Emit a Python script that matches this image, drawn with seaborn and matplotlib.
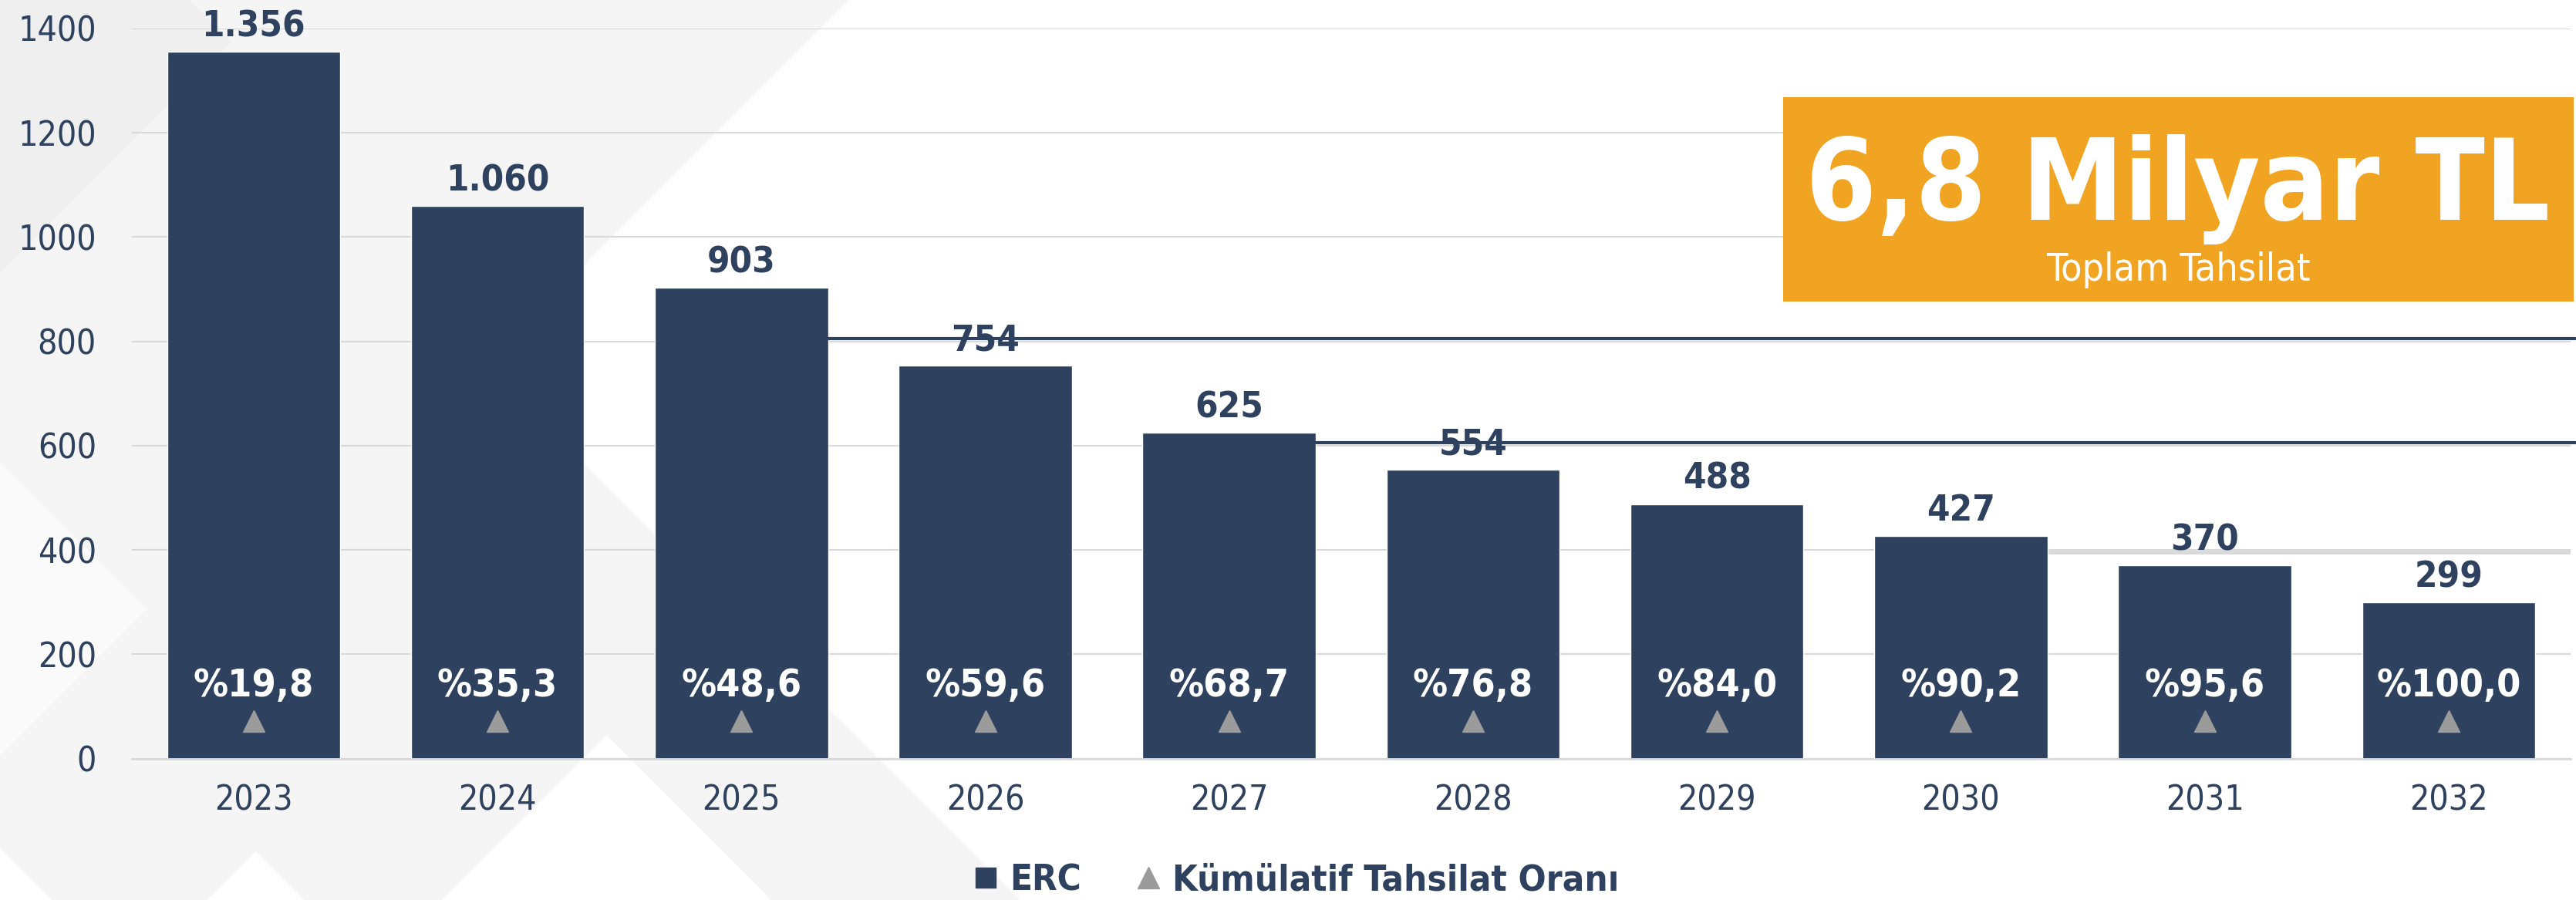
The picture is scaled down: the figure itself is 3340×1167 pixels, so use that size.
import numpy as np
import matplotlib
matplotlib.use("Agg")
import matplotlib.pyplot as plt
from matplotlib.patches import Polygon, Rectangle
from matplotlib.lines import Line2D
import seaborn as sns

# data
years = ["2023", "2024", "2025", "2026", "2027", "2028", "2029", "2030", "2031", "2032"]
erc = [1356, 1060, 903, 754, 625, 554, 488, 427, 370, 299]
cum_rate = [19.8, 35.3, 48.6, 59.6, 68.7, 76.8, 84.0, 90.2, 95.6, 100.0]
y_ticks = [0, 200, 400, 600, 800, 1000, 1200, 1400]
total_text = "6,8 Milyar TL"
total_sub = "Toplam Tahsilat"
legend_labels = ["ERC", "Kümülatif Tahsilat Oranı"]

NAVY = "#2E415E"
GREY = "#9B9B9B"
ORANGE = "#F0A422"
GRID = "#D9D9D9"
W, H = 3341, 1167
BAR_W = 0.71
TRI_Y = 72  # triangles all sit at the same height near the base


def px(x, y):
    return (x / W, 1 - y / H)


sns.set_style("white")
plt.rcParams["font.family"] = ["DejaVu Sans"]
plt.rcParams["font.stretch"] = "condensed"

fig = plt.figure(figsize=(W / 100, H / 100), dpi=100)
fig.patch.set_facecolor("white")

# faint 45-degree shapes in the background (pixel coords, y down)
bg_shapes = [
    ("#F5F5F5", [(0, 0), (1101, 0), (628, 473), (1322, 1167), (0, 1167)]),
    ("#EFEFEF", [(0, 0), (245, 0), (300, 55), (0, 355)]),
    ("#FFFFFF", [(0, 1100), (0, 1167), (67, 1167)]),
    ("#FFFFFF", [(268, 1167), (394, 1167), (331, 1104)]),
    ("#FFFFFF", [(573, 1167), (1000, 1167), (786, 953)]),
    ("#FAFAFA", [(0, 600), (190, 790), (0, 980)]),
]
for col, pts in bg_shapes:
    fig.patches.append(Polygon([px(*p) for p in pts], closed=True,
                               transform=fig.transFigure, facecolor=col,
                               edgecolor="none", zorder=-5))

ax = fig.add_axes([0.0511, 0.1572, 0.9465, 0.8111])
ax.set_facecolor("none")

sns.barplot(x=years, y=erc, color=NAVY, saturation=1, width=BAR_W, ax=ax, zorder=2)
ax.set_xlim(-0.5, 9.5)
ax.set_ylim(0, 1400)

# stray lines that cross the reference chart
ax.plot([2 + BAR_W / 2, 9.52], [805, 805], color=NAVY, lw=3, clip_on=False, zorder=2.5)
ax.plot([4 + BAR_W / 2, 9.52], [606, 606], color=NAVY, lw=3, clip_on=False, zorder=2.5)
ax.plot([7 + BAR_W / 2, 9.5], [395, 395], color=GRID, lw=3.5, zorder=1.5)

x = np.arange(len(years))
ax.plot(x, [TRI_Y] * len(years), ls="none", marker="^", ms=20, color=GREY, zorder=3)

for i, v in enumerate(erc):
    ax.annotate(f"{v:,}".replace(",", "."), (i, v), xytext=(0, 7),
                textcoords="offset points", ha="center", va="bottom",
                color=NAVY, fontsize=34, fontweight="bold")
for i, p in enumerate(cum_rate):
    ax.annotate(f"%{p:.1f}".replace(".", ","), (i, TRI_Y), xytext=(0, 33),
                textcoords="offset points", ha="center", va="center",
                color="white", fontsize=36, fontweight="bold")

ax.set_yticks(y_ticks)
ax.yaxis.grid(True, color=GRID, lw=1.5)
ax.xaxis.grid(False)
ax.set_axisbelow(True)
for s in ["left", "top", "right"]:
    ax.spines[s].set_visible(False)
ax.spines["bottom"].set_color(GRID)
ax.spines["bottom"].set_linewidth(2)
ax.set_xlabel("")
ax.set_ylabel("")
ax.tick_params(axis="y", length=0, pad=33, labelsize=32, labelcolor=NAVY)
ax.tick_params(axis="x", which="major", length=0, pad=24, labelsize=32, labelcolor=NAVY)
ax.set_xticks(np.arange(-0.5, 10, 1), minor=True)
ax.tick_params(axis="x", which="minor", length=12, width=1.5, color=GRID)

# total collection box
x0, y0 = px(2312, 391)
fig.patches.append(Rectangle((x0, y0), (3337 - 2312) / W, (391 - 126) / H,
                             transform=fig.transFigure, facecolor=ORANGE,
                             edgecolor="none", zorder=1))
fig.text(*px(2824, 285), total_text, ha="center", va="baseline", color="white",
         fontsize=106, fontweight="bold", zorder=2)
fig.text(*px(2824, 364), total_sub, ha="center", va="baseline", color="white",
         fontsize=36, zorder=2)

handles = [Line2D([], [], marker="s", ls="none", color=NAVY, ms=19),
           Line2D([], [], marker="^", ls="none", color=GREY, ms=20)]
fig.legend(handles, legend_labels, loc="center", bbox_to_anchor=(0.503, 0.0214),
           ncol=2, frameon=False, prop=dict(size=34, weight="bold"),
           labelcolor=NAVY, handlelength=0.7, handletextpad=0.3, columnspacing=1.5)

fig.savefig("out.png", dpi=100)
